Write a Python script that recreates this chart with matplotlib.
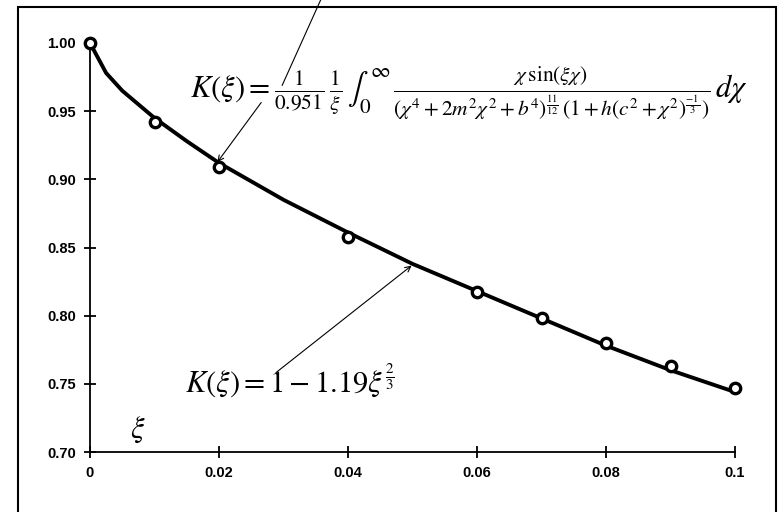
import matplotlib.pyplot as plt
from matplotlib.patches import Rectangle

# measured points (open markers)
xi_pts = [0, 0.01, 0.02, 0.04, 0.06, 0.07, 0.08, 0.09, 0.1]
k_pts = [1.000, 0.942, 0.909, 0.858, 0.817, 0.798, 0.780, 0.763, 0.747]

# fitted curve
xi_curve = [0, 0.0025, 0.005, 0.01, 0.015, 0.02, 0.03, 0.04, 0.05, 0.06, 0.07, 0.08, 0.09, 0.1]
k_curve = [1.0, 0.978, 0.965, 0.945, 0.928, 0.912, 0.885, 0.861, 0.838, 0.818, 0.798, 0.778, 0.760, 0.744]

x_ticks = [0, 0.02, 0.04, 0.06, 0.08, 0.1]
x_labels = ['0', '0.02', '0.04', '0.06', '0.08', '0.1']
y_ticks = [0.70, 0.75, 0.80, 0.85, 0.90, 0.95, 1.00]

plt.rcParams['font.family'] = ['Liberation Sans', 'DejaVu Sans']
plt.rcParams['mathtext.fontset'] = 'stix'

fig = plt.figure(figsize=(7.78, 5.12), dpi=100)
ax = fig.add_axes([90 / 778, 1 - 452 / 512, 645 / 778, 409 / 512])

ax.plot(xi_curve, k_curve, color='black', lw=2.8, clip_on=False, zorder=2)
ax.plot(xi_pts, k_pts, 'o', ms=7.5, mfc='white', mec='black', mew=2.4, clip_on=False, zorder=3)

ax.set_xlim(0, 0.1)
ax.set_ylim(0.70, 1.00)
ax.set_xticks(x_ticks)
ax.set_xticklabels(x_labels, fontweight='bold')
ax.set_yticks(y_ticks)
ax.set_yticklabels(['%.2f' % v for v in y_ticks], fontweight='bold')
ax.spines['top'].set_visible(False)
ax.spines['right'].set_visible(False)
ax.spines['left'].set_linewidth(1.3)
ax.spines['bottom'].set_linewidth(1.3)
ax.tick_params(direction='inout', length=8, width=1.3, labelsize=10.5, pad=6)

# upper formula with arrow to the 0.02 point
ax.text(0.0155, 0.963,
        r'$K(\xi) = \frac{1}{0.951}\,\frac{1}{\xi}\,\int_0^{\infty}\,\frac{\chi\,\sin(\xi\chi)}'
        r'{(\chi^4+2m^2\chi^2+b^4)^{\frac{11}{12}}\,(1+h(c^2+\chi^2)^{\frac{-1}{3}})}\,d\chi$',
        fontsize=22, va='center', ha='left')
ax.annotate('', xy=(0.0195, 0.911), xytext=(0.0268, 0.958),
            arrowprops=dict(arrowstyle='->', lw=0.8, color='black'))
ax.plot([0.0298, 0.0358], [0.969, 1.032], color='black', lw=0.8, clip_on=False)

# lower formula with arrow to the curve
ax.text(0.0148, 0.752, r'$K(\xi) = 1 - 1.19\xi^{\frac{2}{3}}$',
        fontsize=22, va='center', ha='left')
ax.annotate('', xy=(0.0502, 0.838), xytext=(0.0285, 0.757),
            arrowprops=dict(arrowstyle='->', lw=0.8, color='black'))

ax.text(0.0062, 0.716, r'$\xi$', fontsize=22, ha='left', va='center')

# outer frame of the scanned figure
fig.patches.append(Rectangle((18 / 778, -0.05), 758 / 778, 1.05 - 7 / 512,
                             transform=fig.transFigure, fill=False,
                             lw=1.5, edgecolor='black'))

fig.savefig('out.png', dpi=100)
